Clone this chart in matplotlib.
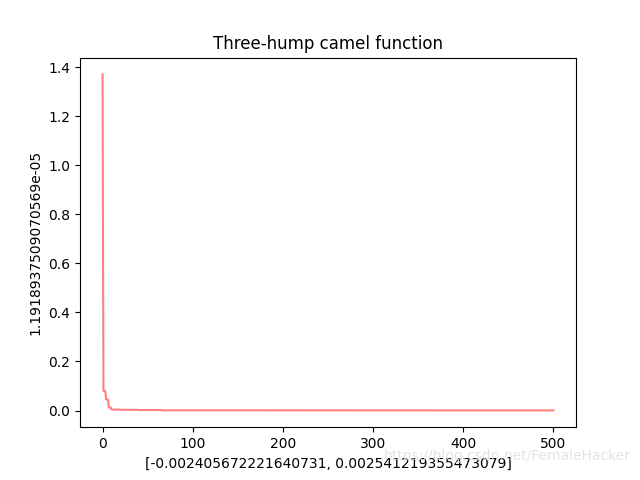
import matplotlib
matplotlib.use("Agg")
import matplotlib.pyplot as plt

# best fitness per iteration, stored as runs (value, number of iterations)
run_values = [1.37, 0.08, 0.045, 0.012, 0.004, 0.003, 0.002, 0.0008, 0.0005]
run_lengths = [1, 3, 3, 3, 10, 20, 26, 100, 335]
fitness = []
for v, n in zip(run_values, run_lengths):
    fitness += [v] * n
iterations = list(range(len(fitness)))

fig, ax = plt.subplots(figsize=(6.4, 4.8), dpi=100)
ax.plot(iterations, fitness, color="red", alpha=0.5)
ax.set_title("Three-hump camel function")
ax.set_xlabel("[-0.002405672221640731, 0.002541219355473079]")
ax.set_ylabel("1.1918937509070569e-05")
fig.text(0.985, 0.035, "https://blog.csdn.net/FemaleHacker", ha="right", va="bottom",
         color="#dddddd", fontsize=10, alpha=0.8)
fig.savefig("out.png")
